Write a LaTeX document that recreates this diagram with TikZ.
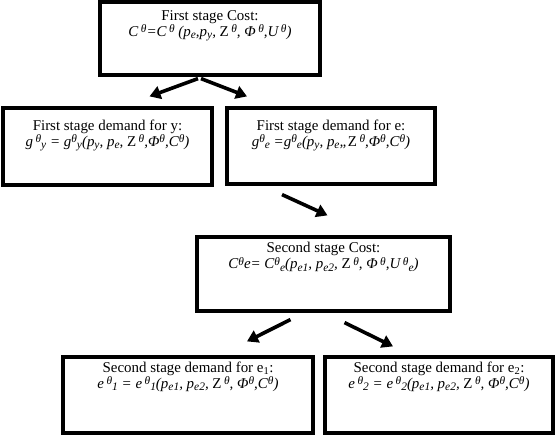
\documentclass[tikz,border=0pt]{standalone}
\usepackage{fontspec}
\setmainfont{Liberation Serif}
\usetikzlibrary{arrows.meta, positioning, calc}

\newcommand{\tht}{\raisebox{0.55ex}{\fontsize{11.5}{11.5}\selectfont θ}}
\newcommand{\sbs}[1]{\raisebox{-0.35ex}{\fontsize{11.5}{11.5}\selectfont #1}}

\begin{document}
\begin{tikzpicture}[
      x=1bp, y=-1bp,
      stagebox/.style={rectangle, draw, line width=3.2bp, inner sep=0pt},
      lbl/.style={align=center, inner sep=1bp, font=\fontsize{15}{16}\selectfont},
      arrow/.style={-{Triangle[length=11bp, width=13bp]}, line width=3.6bp}
    ]
    \useasboundingbox (0,0) rectangle (557,435);

    % first stage
    \node[stagebox, minimum width=220bp, minimum height=73bp] (cost1) at (210,38.5) {};
    \node[lbl, below=9bp of cost1.north] (cost1t) {First stage Cost:\\
      \textit{C\,\tht=C\,\tht\ (p\sbs{e},p\sbs{y}, \textup{Z}\,\tht, Φ\,\tht,U\,\tht)}};

    \node[stagebox, minimum width=209bp, minimum height=77bp] (demy) at (107.5,146.5) {};
    \node[lbl, below=12bp of demy.north] (demyt) {First stage demand for y:\\
      \textit{g\,\tht\sbs{y} = g\tht\sbs{y}(p\sbs{y}, p\sbs{e}, \textup{Z}\,\tht,Φ\tht,C\tht)}};

    \node[stagebox, minimum width=208bp, minimum height=76bp] (deme) at (331,146) {};
    \node[lbl, below=12bp of deme.north] (demet) {First stage demand for e:\\
      \textit{g\tht\sbs{e} =g\tht\sbs{e}(p\sbs{y}, p\sbs{e},,\textup{Z}\,\tht,Φ\tht,C\tht)}};

    % second stage
    \node[stagebox, minimum width=253bp, minimum height=74bp] (cost2) at (323.5,274) {};
    \node[lbl, below=6bp of cost2.north] (cost2t) {Second stage Cost:\\
      \textit{C\tht e= C\tht\sbs{e}(p\sbs{e1}, p\sbs{e2}, \textup{Z}\,\tht, Φ\,\tht,U\,\tht\sbs{e})}};

    \node[stagebox, minimum width=250bp, minimum height=76bp] (dem1) at (188,395) {};
    \node[lbl, below=5bp of dem1.north] (dem1t) {Second stage demand for e\textsubscript{1}:\\
      \textit{e\,\tht\sbs{1} = e\,\tht\sbs{1}(p\sbs{e1}, p\sbs{e2}, \textup{Z}\,\tht, Φ\tht,C\tht)}};

    \node[stagebox, minimum width=228bp, minimum height=76bp] (dem2) at (439,395) {};
    \node[lbl, below=5bp of dem2.north] (dem2t) {Second stage demand for e\textsubscript{2}:\\
      \textit{e\,\tht\sbs{2} = e\,\tht\sbs{2}(p\sbs{e1}, p\sbs{e2}, \textup{Z}\,\tht, Φ\tht,C\tht)}};

    \draw[arrow] ($(cost1.south)+(-12,2)$) -- ($(demy.north)+(42,-10)$);
    \draw[arrow] ($(cost1.south)+(-9,2)$) -- ($(deme.north)+(-84,-10)$);
    \draw[arrow] ($(deme.south)+(-49,9)$) -- ($(cost2.north)+(4,-20)$);
    \draw[arrow] ($(cost2.south)+(-33,7)$) -- ($(dem1.north)+(59,-14)$);
    \draw[arrow] ($(cost2.south)+(21,10)$) -- ($(dem2.north)+(-46,-9)$);
  \end{tikzpicture}
\end{document}
